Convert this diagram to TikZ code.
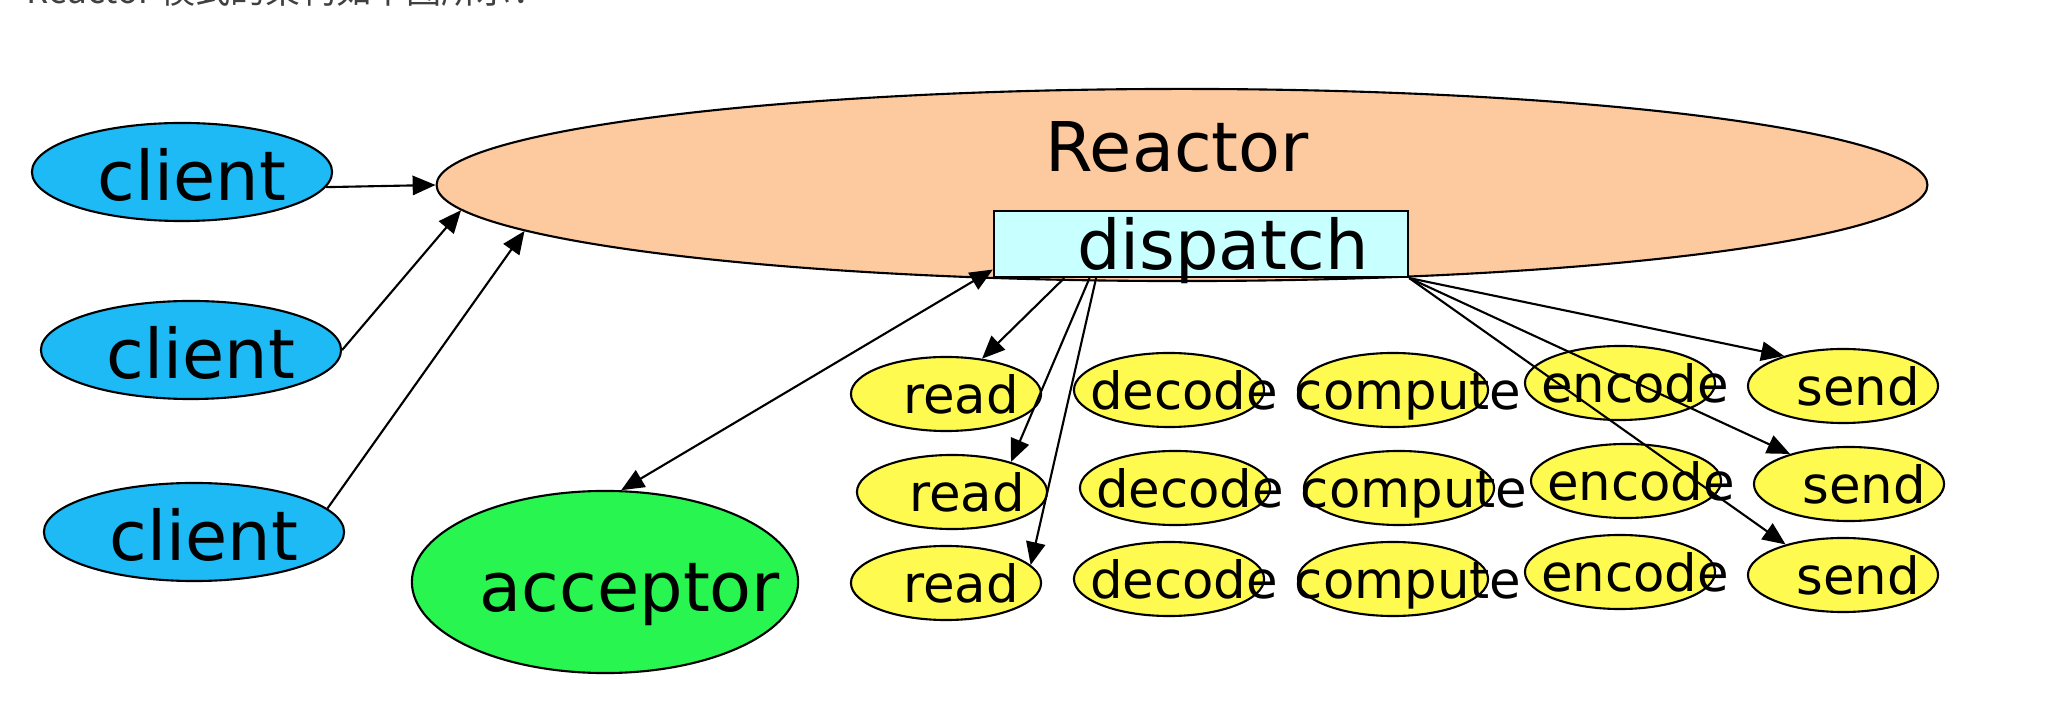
\documentclass[tikz,border=0pt]{standalone}
\usepackage{fontspec}
\setmainfont{DejaVu Sans}
\newfontfamily\cjkfont{Noto Sans CJK SC}
\usetikzlibrary{shapes.geometric,arrows.meta}
\definecolor{clientblue}{RGB}{30,186,245}
\definecolor{reactorpeach}{RGB}{252,202,158}
\definecolor{dispatchcyan}{RGB}{200,255,255}
\definecolor{acceptorgreen}{RGB}{40,245,80}
\definecolor{jobyellow}{RGB}{255,250,80}

\begin{document}
\begin{tikzpicture}[x=0.01cm,y=-0.01cm,
    every node/.style={inner sep=0pt},
    bigtext/.style={anchor=base,font=\fontsize{19.5}{22}\selectfont},
    jobtext/.style={anchor=base,font=\fontsize{14.6}{17}\selectfont},
    oval/.style={ellipse,draw,line width=0.6pt},
    conn/.style={line width=0.6pt,->},
    >={Triangle[length=6.5pt,width=5.5pt]}]
    \useasboundingbox (0,0) rectangle (2046,704);
    % caption line, cut off at the top
    \node[anchor=base west,font=\cjkfont\fontsize{10}{12}\selectfont,text=black!75]
      (caption) at (26,4) {Reactor 模式的架构如下图所示：};

    \node[oval,fill=reactorpeach,minimum width=14.9cm,minimum height=1.92cm] (reactor) at (1182,185) {};
    \node[draw,line width=0.6pt,fill=dispatchcyan,minimum width=4.14cm,minimum height=0.66cm] (dispatch) at (1201,244) {};
    \node[oval,fill=clientblue,minimum width=3cm,minimum height=0.98cm] (client1) at (182,172) {};
    \node[oval,fill=clientblue,minimum width=3cm,minimum height=0.98cm] (client2) at (191,350) {};
    \node[oval,fill=clientblue,minimum width=3cm,minimum height=0.98cm] (client3) at (194,532) {};
    \node[oval,fill=acceptorgreen,minimum width=3.86cm,minimum height=1.82cm] (acceptor) at (605,582) {};

    \foreach \y/\dx [count=\r] in {390/0,488/6,579/0}
      \foreach \job/\x/\dy in {read/946/4,decode/1169/0,compute/1393/0,encode/1620/-7,send/1843/-4}
        \node[oval,fill=jobyellow,minimum width=1.9cm,minimum height=0.74cm] (\job\r) at (\x+\dx,\y+\dy) {};

    % connections
    \draw[conn] (client1.-6) -- (reactor.west);
    \draw[conn] (client2.east) -- (reactor.182);
    \draw[conn] (client3.10) -- (reactor.184);
    \draw[conn,<->] (acceptor.80) -- (dispatch.187);
    \draw[conn] (dispatch.194) -- (read1);
    \draw[conn] (dispatch.197) -- (read2.27);
    \draw[conn] (dispatch.198) -- (read3.12);
    \draw[conn] (dispatch.south east) -- (send1.153);
    \draw[conn] (dispatch.south east) -- (send2.153);
    \draw[conn] (dispatch.south east) -- (send3.152);

    % labels
    \node[bigtext] (reactor-t) at (1177,172) {Reactor};
    \node[bigtext] (dispatch-t) at (1223,270) {dispatch};
    \node[bigtext,xshift=0.1cm,yshift=-0.28cm] (client1-t) at (client1) {client};
    \node[bigtext,xshift=0.1cm,yshift=-0.28cm] (client2-t) at (client2) {client};
    \node[bigtext,xshift=0.1cm,yshift=-0.28cm] (client3-t) at (client3) {client};
    \node[bigtext] (acceptor-t) at (630,611) {acceptor};
    \foreach \r in {1,2,3}
      \foreach \job in {read,decode,compute,encode,send}
        \node[jobtext,xshift=0.15cm,yshift=-0.19cm] (\job\r-t) at (\job\r) {\job};
\end{tikzpicture}
\end{document}
